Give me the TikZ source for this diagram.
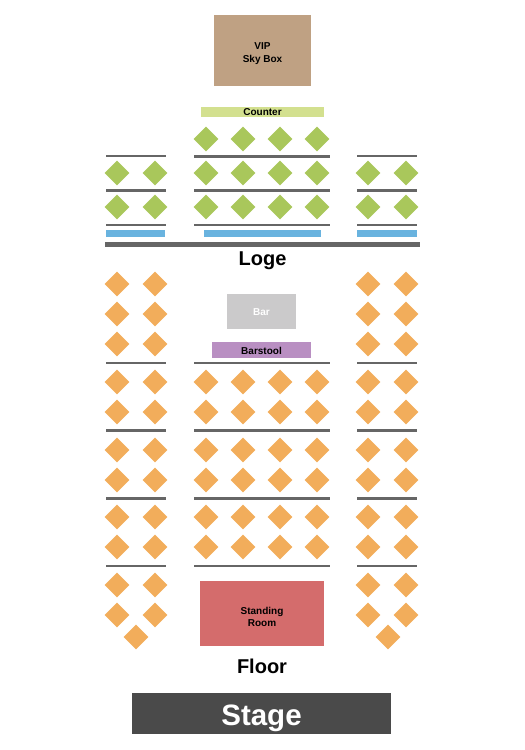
\documentclass[tikz,border=0pt]{standalone}
\usepackage{fontspec}
\setmainfont{Liberation Sans}
\usetikzlibrary{shapes,positioning}
\definecolor{seatgreen}{HTML}{A9C75B}
\definecolor{seatorange}{HTML}{F2AD5B}
\definecolor{railgrey}{HTML}{666666}
\definecolor{ledgeblue}{HTML}{69B3DF}
\definecolor{vipbrown}{HTML}{BFA183}
\definecolor{countergreen}{HTML}{D3E08F}
\definecolor{bargrey}{HTML}{CBCACB}
\definecolor{stoolpurple}{HTML}{B98FC2}
\definecolor{standred}{HTML}{D46C6C}
\definecolor{stagegrey}{HTML}{4A4A4A}
\tikzstyle{seat} = [diamond, aspect=1, inner sep=0pt, minimum width=25pt, minimum height=25pt]
\tikzstyle{loge} = [seat, fill=seatgreen]
\tikzstyle{floor} = [seat, fill=seatorange]
\tikzstyle{area} = [rectangle, inner sep=0pt, text height=8pt, text depth=0pt, font=\fontsize{10}{12}\selectfont\bfseries]
\tikzstyle{rail} = [draw=railgrey, line width=2pt]
\tikzstyle{thickrail} = [draw=railgrey, line width=3pt]
\tikzstyle{ledge} = [rectangle, fill=ledgeblue, inner sep=0pt, minimum height=7pt]
\tikzstyle{title} = [inner sep=0pt, text height=15pt, text depth=0pt, font=\fontsize{20}{24}\selectfont\bfseries]

\begin{document}
\begin{tikzpicture}[x=1pt, y=-1pt]
    \useasboundingbox (0,0) rectangle (525,750);
    % Areas
    \node [area, fill=vipbrown, minimum width=97pt, minimum height=71pt] (vip) at (262.5,50.5) {};
    \node [area, fill=countergreen, minimum width=123pt, minimum height=10pt] (counter) at (262.5,111.5) {Counter};
    \node [area, fill=bargrey, text=white, minimum width=69pt, minimum height=35pt] (bar) at (261.5,311.5) {Bar};
    \node [area, fill=stoolpurple, minimum width=99pt, minimum height=16pt] (barstool) at (261.5,350) {Barstool};
    \node [area, fill=standred, minimum width=124pt, minimum height=65pt] (standing) at (262,613.5) {};
    \node [area, fill=stagegrey, text=white, minimum width=259pt, minimum height=41pt, text height=23pt, font=\fontsize{29.5}{32}\selectfont\bfseries] (stage) at (261.5,713.5) {Stage};
    % Area labels
    \node [area] (viptop) at (262.5,45.5) {VIP};
    \node [area] (vipbottom) at (262.5,58) {Sky Box};
    \node [area] (standingtop) at (262,610) {Standing};
    \node [area] (standingbottom) at (262,622) {Room};
    % Titles
    \node [title] (logetitle) at (262.5,257.5) {Loge};
    \node [title] (floortitle) at (262,665.5) {Floor};
    % Loge seats
    \foreach \x in {206,243,280,317}
        \node [loge] (logetop\x) at (\x,139) {};
    \foreach \y in {173,207}
        \foreach \x in {117,155,206,243,280,317,368,406}
            \node [loge] (loge\x-\y) at (\x,\y) {};
    % Floor seats
    \foreach \y in {284,314,344,585,615}
        \foreach \x in {117,155,368,406}
            \node [floor] (floor\x-\y) at (\x,\y) {};
    \foreach \y in {382,412,450,480,517,547}
        \foreach \x in {117,155,206,243,280,317,368,406}
            \node [floor] (floor\x-\y) at (\x,\y) {};
    \node [floor] (floorleft) at (136,637) {};
    \node [floor] (floorright) at (388,637) {};
    % Rails
    \foreach \y/\kind in {190/thickrail,225/rail,363/rail,430/thickrail,498/thickrail,566/rail} {
        \draw [\kind] (106,\y) -- (166,\y);
        \draw [\kind] (194,\y) -- (330,\y);
        \draw [\kind] (357,\y) -- (417,\y);
    }
    \draw [rail] (106,156) -- (166,156);
    \draw [thickrail] (194,156) -- (330,156);
    \draw [rail] (357,156) -- (417,156);
    % Ledges
    \node [ledge, minimum width=59pt] (ledgeleft) at (135.5,233.5) {};
    \node [ledge, minimum width=117pt] (ledgecenter) at (262.5,233.5) {};
    \node [ledge, minimum width=60pt] (ledgeright) at (387,233.5) {};
    \draw [railgrey, line width=5pt] (105,244.5) -- (420,244.5);
\end{tikzpicture}
\end{document}
